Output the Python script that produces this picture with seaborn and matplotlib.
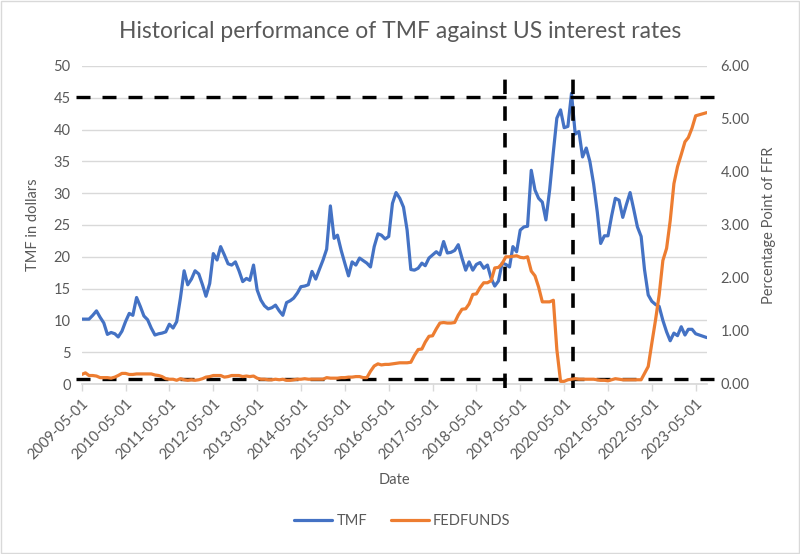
import numpy as np
import pandas as pd
import matplotlib
matplotlib.use("Agg")
import matplotlib.pyplot as plt
from matplotlib.lines import Line2D
from matplotlib.patches import Rectangle
import seaborn as sns

# ---------------- data ----------------
start_month = "2009-05-01"
tmf = [10.2, 10.2, 10.2, 10.8, 11.5, 10.5, 9.6, 7.8, 8.1, 7.9, 7.4, 8.3,
       9.8, 11.1, 10.8, 13.6, 12.2, 10.7, 10.1, 8.8, 7.7, 7.9, 8.0, 8.2,
       9.4, 8.8, 9.8, 13.5, 17.8, 15.6, 16.5, 17.8, 17.3, 15.6, 13.8, 15.8,
       20.5, 19.5, 21.6, 20.3, 18.9, 18.7, 19.2, 17.8, 16.1, 16.6, 16.3, 18.7,
       14.8, 13.2, 12.3, 11.8, 12.0, 12.4, 11.5, 10.8, 12.8, 13.1, 13.5, 14.3,
       15.3, 15.4, 15.6, 17.7, 16.5, 18.0, 19.5, 21.2, 28.0, 22.9, 23.4, 21.0,
       19.0, 17.0, 19.2, 18.7, 19.8, 19.4, 19.0, 18.4, 21.6, 23.6, 23.4, 22.8,
       23.2, 28.4, 30.1, 29.2, 27.8, 24.2, 18.0, 17.9, 18.2, 19.0, 18.6, 19.8,
       20.3, 20.8, 20.3, 22.4, 20.6, 20.7, 21.0, 21.9, 19.8, 17.9, 19.2, 17.9,
       18.8, 19.1, 18.2, 18.7, 16.6, 15.4, 16.2, 19.0, 18.8, 18.4, 21.6, 20.8,
       24.2, 24.7, 24.8, 33.6, 30.5, 29.2, 28.6, 25.8, 30.5, 36.5, 41.8, 43.1,
       40.3, 40.5, 45.7, 39.3, 39.7, 35.7, 37.1, 35.0, 31.5, 27.0, 22.1, 23.3,
       23.3, 26.5, 29.2, 28.9, 26.2, 28.2, 30.1, 27.5, 24.7, 23.2, 18.0, 14.0,
       13.0, 12.5, 12.2, 10.0, 8.2, 6.8, 8.0, 7.6, 9.0, 7.7, 8.6, 8.6,
       7.9, 7.7, 7.5, 7.3]
fedfunds = [0.18, 0.21, 0.16, 0.16, 0.15, 0.12, 0.12, 0.12,
            0.11, 0.13, 0.16, 0.20, 0.20, 0.18, 0.18, 0.19, 0.19, 0.19, 0.19, 0.19,
            0.17, 0.16, 0.14, 0.10, 0.09, 0.09, 0.07, 0.10, 0.08, 0.07, 0.08, 0.07,
            0.08, 0.10, 0.13, 0.14, 0.16, 0.16, 0.16, 0.13, 0.14, 0.16, 0.16, 0.16,
            0.14, 0.15, 0.14, 0.15, 0.11, 0.09, 0.09, 0.08, 0.08, 0.09, 0.08, 0.09,
            0.07, 0.07, 0.08, 0.09, 0.09, 0.10, 0.09, 0.09, 0.09, 0.09, 0.09, 0.12,
            0.11, 0.11, 0.11, 0.12, 0.12, 0.13, 0.13, 0.14, 0.14, 0.12, 0.12, 0.24,
            0.34, 0.38, 0.36, 0.37, 0.37, 0.38, 0.39, 0.40, 0.40, 0.40, 0.41, 0.54,
            0.65, 0.66, 0.79, 0.90, 0.91, 1.04, 1.15, 1.16, 1.15, 1.15, 1.16, 1.30,
            1.41, 1.42, 1.51, 1.69, 1.70, 1.82, 1.91, 1.91, 1.95, 2.19, 2.20, 2.27,
            2.40, 2.40, 2.41, 2.42, 2.39, 2.38, 2.40, 2.13, 2.04, 1.83, 1.55, 1.55,
            1.55, 1.58, 0.65, 0.05, 0.05, 0.08, 0.09, 0.10, 0.09, 0.09, 0.09, 0.09,
            0.09, 0.08, 0.07, 0.07, 0.06, 0.08, 0.10, 0.09, 0.08, 0.08, 0.08, 0.08,
            0.08, 0.08, 0.20, 0.33, 0.77, 1.21, 1.68, 2.33, 2.56, 3.08, 3.78, 4.10,
            4.33, 4.57, 4.65, 4.83, 5.06, 5.08, 5.10, 5.12]
ref_dates = ["2018-12-22", "2020-07-10"]   # vertical dashed markers
ref_levels = [45.2, 0.8]                   # horizontal dashed markers (left axis)
title = "Historical performance of TMF against US interest rates"

dates = pd.date_range(start_month, periods=len(tmf), freq="MS")
df = pd.DataFrame({"Date": dates, "TMF": tmf, "FEDFUNDS": fedfunds})

# ---------------- style ----------------
sns.set_theme(style="white")
plt.rcParams["font.family"] = ["Lato", "DejaVu Sans"]
grey = "#595959"
gridc = "#D9D9D9"
blue = "#4472C4"
orange = "#ED7D31"

fig = plt.figure(figsize=(8.0, 5.54), dpi=100)
ax = fig.add_axes([81.7 / 800, (554 - 384) / 554, 625 / 800, 318 / 554])
ax2 = ax.twinx()

sns.lineplot(data=df, x="Date", y="TMF", ax=ax, color=blue, lw=2.3, zorder=3)
sns.lineplot(data=df, x="Date", y="FEDFUNDS", ax=ax2, color=orange, lw=2.3, zorder=3)

ax.set_ylim(0, 50)
ax.set_yticks(np.arange(0, 51, 5))
ax2.set_ylim(0, 6)
ax2.set_yticks(np.arange(0, 6.01, 1))
ax2.set_yticklabels([f"{v:.2f}" for v in np.arange(0, 6.01, 1)])
ax.set_xlim(dates[0], dates[-1])

ticks = pd.date_range(start_month, dates[-1], freq="12MS")
ax.set_xticks(ticks)
ax.set_xticklabels([d.strftime("%Y-%m-%d") for d in ticks], rotation=45,
                   ha="right", rotation_mode="anchor")

ax.grid(axis="y", color=gridc, lw=1)
ax.grid(axis="x", visible=False)
ax2.grid(False)
for a in (ax, ax2):
    for s in a.spines.values():
        s.set_visible(False)
ax.spines["bottom"].set_visible(True)
ax.spines["bottom"].set_color(gridc)
ax.tick_params(axis="x", colors=grey, labelsize=10.5, length=5, width=1,
               color=gridc, direction="out", pad=4, bottom=True)
ax.tick_params(axis="y", colors=grey, labelsize=10.5, length=0, pad=8)
ax2.tick_params(axis="y", colors=grey, labelsize=10.5, length=0, pad=10)

ax.set_xlabel("Date", color=grey, fontsize=10.5, labelpad=8)
ax.set_ylabel("TMF in dollars", color=grey, fontsize=10.5, labelpad=10)
ax2.set_ylabel("Percentage Point of FFR", color=grey, fontsize=10.5, labelpad=9)

# reference dashed lines
for lvl in ref_levels:
    ax.axhline(lvl, xmin=-0.009, xmax=1.016, color="black", lw=2.4,
               ls=(0, (4.2, 3.6)), clip_on=False, zorder=5)
for d in ref_dates:
    ax.axvline(pd.Timestamp(d), ymin=-0.013, ymax=0.987, color="black", lw=2.6,
               ls=(0, (4.0, 3.4)), clip_on=False, zorder=5)

ax2.set_zorder(ax.get_zorder() + 1)
ax2.patch.set_visible(False)

fig.text(0.5, 1 - 31 / 554, title, ha="center", va="center", color=grey, fontsize=16.5)

handles = [Line2D([], [], color=blue, lw=2.3), Line2D([], [], color=orange, lw=2.3)]
fig.legend(handles, ["TMF", "FEDFUNDS"], loc="center", bbox_to_anchor=(0.503, 1 - 521 / 554),
           ncol=2, frameon=False, fontsize=10.5, labelcolor=grey, handlelength=2.6,
           columnspacing=1.6, handletextpad=0.3)

fig.patches.append(Rectangle((0.001, 0.001), 0.998, 0.997, transform=fig.transFigure,
                             fill=False, edgecolor=gridc, lw=1))

fig.savefig("out.png", dpi=100)
